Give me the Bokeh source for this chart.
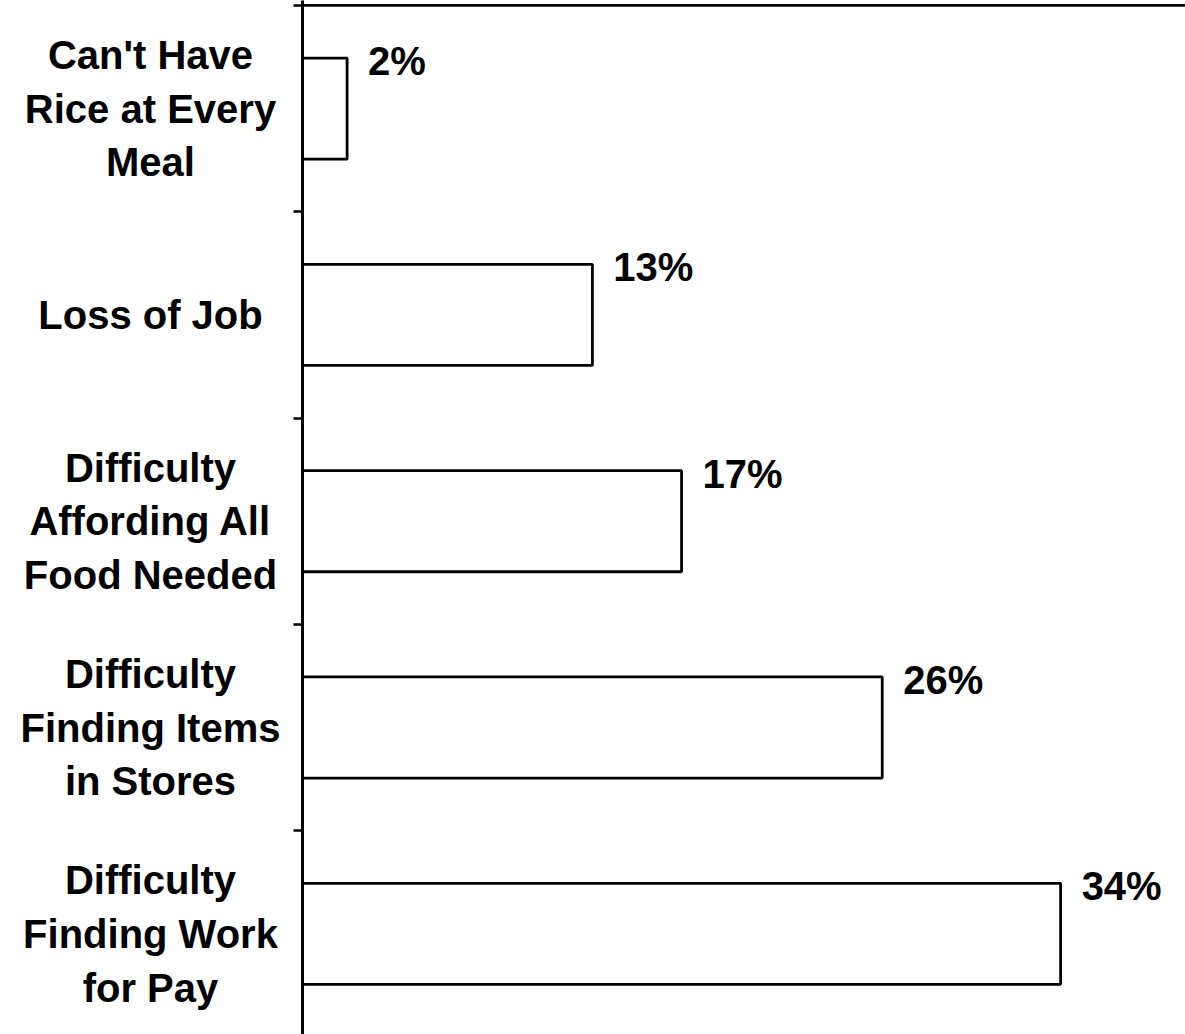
from bokeh.plotting import figure
from bokeh.layouts import row
from bokeh.models import ColumnDataSource, LabelSet, FixedTicker, Range1d, Span
from bokeh.core.properties import value
from bokeh.embed import file_html
from bokeh.resources import INLINE

# Data (bottom to top)
categories = [
    "Difficulty\nFinding Work\nfor Pay",
    "Difficulty\nFinding Items\nin Stores",
    "Difficulty\nAffording All\nFood Needed",
    "Loss of Job",
    "Can't Have\nRice at Every\nMeal",
]
percent = [34, 26, 17, 13, 2]
pct_labels = ["34%", "26%", "17%", "13%", "2%"]

FONT = value("Liberation Sans")
FSIZE = "40px"
BAR_H = 0.49
N = len(categories)

pos = [i + 0.5 for i in range(N)]
src = ColumnDataSource(dict(
    y=pos,
    val=percent,
    lab=pct_labels,
    cat=categories,
    top=[p + BAR_H / 2 for p in pos],
))

y_range = Range1d(0.012, N + 0.024)

# label column (left)
LW = 292
lf = figure(width=LW, height=1034, output_backend="svg", toolbar_location=None,
            x_range=Range1d(0, LW), y_range=y_range,
            x_axis_location=None, y_axis_location=None,
            min_border_left=0, min_border_right=0, min_border_top=0, min_border_bottom=0,
            outline_line_color=None)
lf.grid.visible = False
lsrc = ColumnDataSource(dict(x=[150] * N, y=pos, cat=categories))
lf.text(x="x", y="y", text="cat", source=lsrc, text_align="center", text_baseline="middle",
        text_font=FONT, text_font_style="bold", text_font_size=FSIZE,
        text_line_height=1.22, text_color="black")

# bar chart (right)
p = figure(width=1185 - LW, height=1034, output_backend="svg", toolbar_location=None,
           x_range=Range1d(0, 39.6), y_range=y_range,
           x_axis_location=None, y_axis_location="left",
           min_border_left=10, min_border_right=0, min_border_top=0, min_border_bottom=0,
           outline_line_color=None, background_fill_color="white")
p.grid.visible = False

p.hbar(y="y", left=0, right="val", height=BAR_H, source=src,
       fill_color="white", line_color="black", line_width=2.8)

ax = p.yaxis[0]
ax.ticker = FixedTicker(ticks=[], minor_ticks=list(range(N + 1)))
ax.major_tick_line_color = None
ax.major_label_standoff = 0
ax.minor_tick_out = 9
ax.minor_tick_in = 0
ax.minor_tick_line_width = 2.5
ax.minor_tick_line_color = "black"
ax.axis_line_width = 3
ax.axis_line_color = "black"

p.add_layout(Span(location=N, dimension="width", line_color="black", line_width=2.8))

val_labels = LabelSet(x="val", y="top", text="lab", source=src,
                      x_offset=21, y_offset=19,
                      text_align="left", text_baseline="top",
                      text_font=FONT, text_font_style="bold", text_font_size=FSIZE,
                      text_color="black")
p.add_layout(val_labels)

layout = row(lf, p, spacing=0)
open("out.html", "w").write(file_html(layout, INLINE))
